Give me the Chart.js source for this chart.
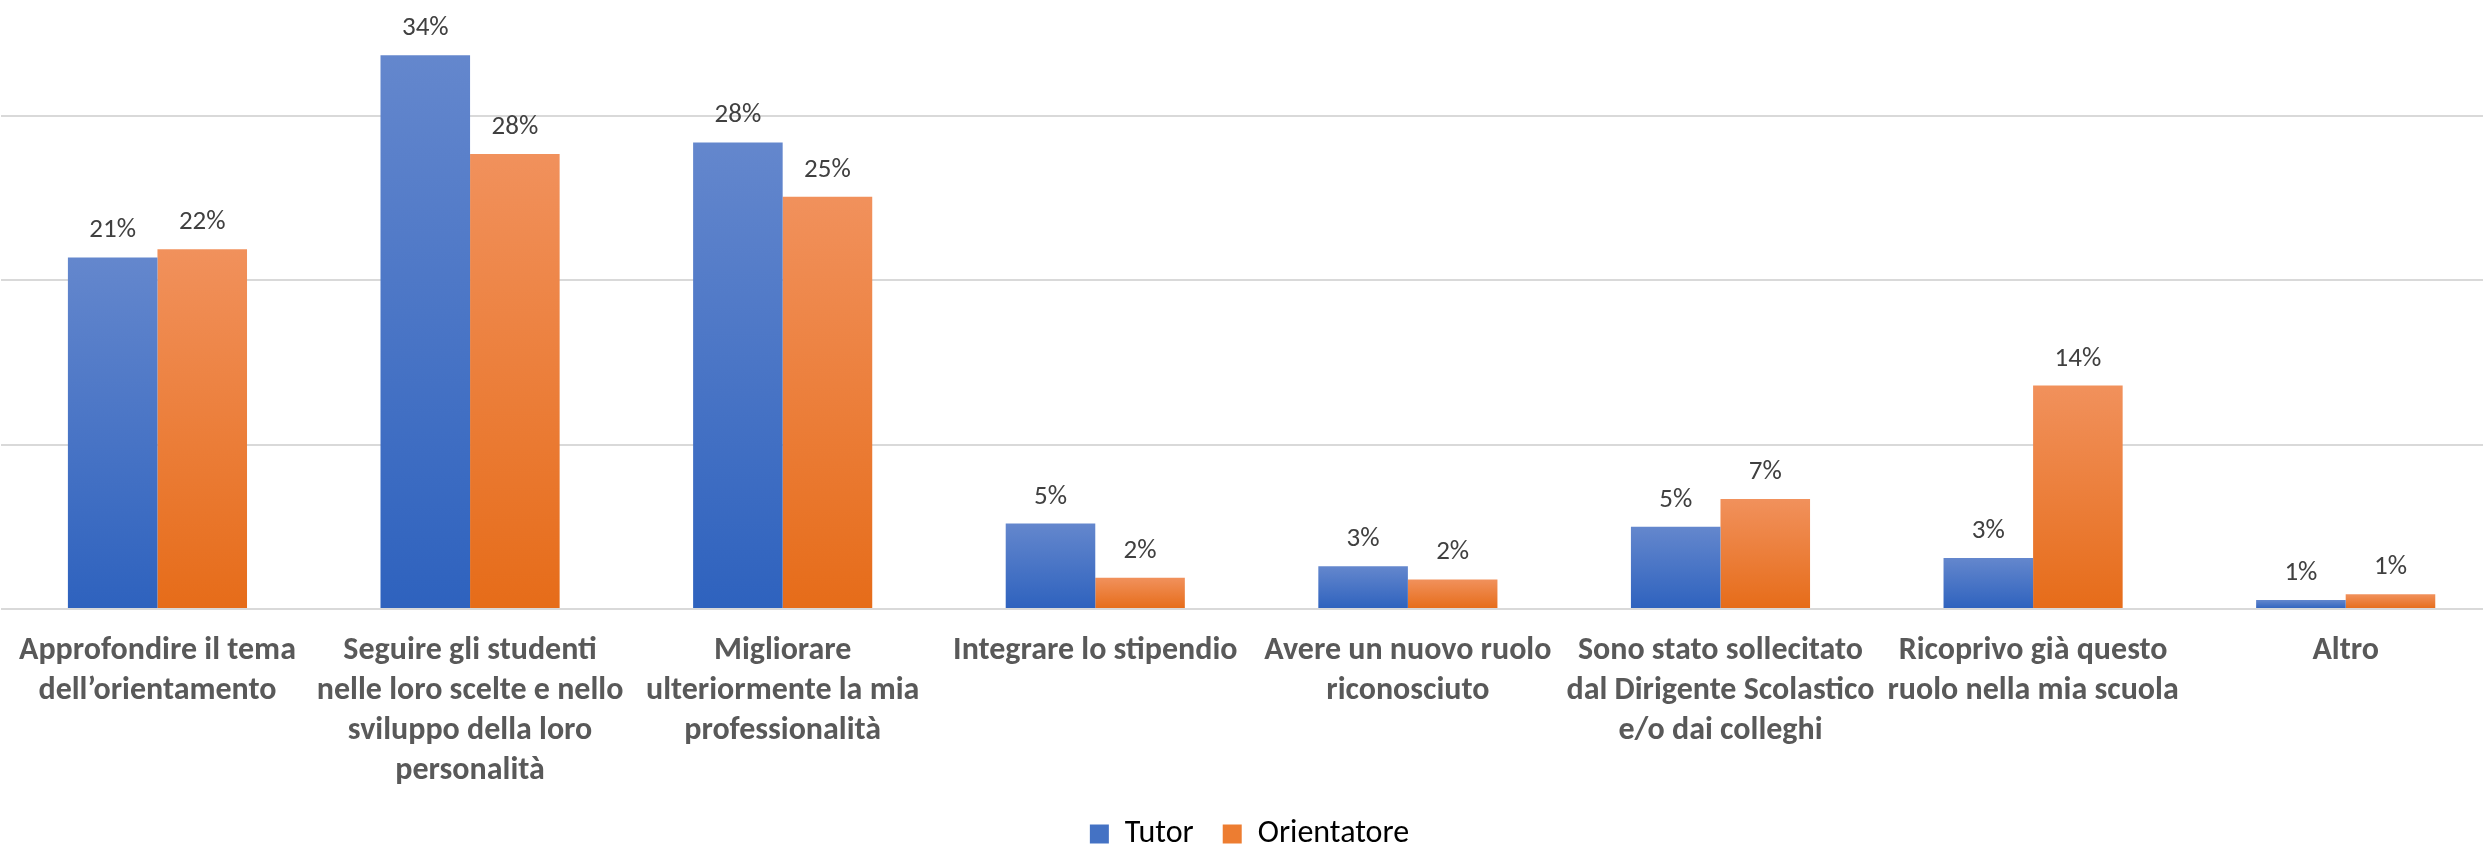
<!DOCTYPE html>
<html>
<head>
<meta charset="utf-8">
<script src="https://cdn.jsdelivr.net/npm/chart.js@4.4.0/dist/chart.umd.min.js"></script>
<style>
  html, body { margin: 0; padding: 0; background: #fff; overflow: hidden; }
  #wrap { position: relative; margin-left: -3px; width: 2505px; height: 860px; }
</style>
</head>
<body>
<div id="wrap"><canvas id="chart"></canvas></div>
<script>
const categories = [
  ['Approfondire il tema', 'dell’orientamento'],
  ['Seguire gli studenti', 'nelle loro scelte e nello', 'sviluppo della loro', 'personalità'],
  ['Migliorare', 'ulteriormente la mia', 'professionalità'],
  ['Integrare lo stipendio'],
  ['Avere un nuovo ruolo', 'riconosciuto'],
  ['Sono stato sollecitato', 'dal Dirigente Scolastico', 'e/o dai colleghi'],
  ['Ricoprivo già questo', 'ruolo nella mia scuola'],
  ['Altro']
];
const seriesNames = ['Tutor', 'Orientatore'];
const tutorValues = [0.214, 0.337, 0.284, 0.052, 0.026, 0.050, 0.031, 0.0055];
const orientatoreValues = [0.219, 0.277, 0.251, 0.019, 0.018, 0.067, 0.136, 0.009];
const gridTicks = [0, 0.1, 0.2, 0.3];

const FONT = 'Carlito, Lato, "Open Sans", sans-serif';
const AXIS_Y = 609; // pixel row of the zero line

function barGradient(top, bottom) {
  return (ctx) => {
    const chart = ctx.chart;
    if (!chart.chartArea || ctx.type !== 'data') return bottom;
    const y = chart.scales.y;
    const yTop = y.getPixelForValue(ctx.raw);
    const yBase = y.getPixelForValue(0);
    const g = chart.ctx.createLinearGradient(0, yTop, 0, yBase);
    g.addColorStop(0, top);
    g.addColorStop(1, bottom);
    return g;
  };
}

// percent labels above each bar
const valueLabels = {
  id: 'valueLabels',
  afterDatasetsDraw(chart) {
    const ctx = chart.ctx;
    ctx.save();
    ctx.font = '27px ' + FONT;
    ctx.fillStyle = '#404040';
    ctx.textAlign = 'center';
    ctx.textBaseline = 'alphabetic';
    chart.data.datasets.forEach((ds, i) => {
      chart.getDatasetMeta(i).data.forEach((bar, j) => {
        ctx.fillText(Math.round(ds.data[j] * 100) + '%', bar.x, bar.y - 20);
      });
    });
    ctx.restore();
  }
};

const legendColors = ['#4472C4', '#ED7D31'];

new Chart(document.getElementById('chart'), {
  type: 'bar',
  data: {
    labels: categories,
    datasets: [
      {
        label: seriesNames[0],
        data: tutorValues,
        backgroundColor: barGradient('#6487CD', '#2E62BE'),
        categoryPercentage: 0.573,
        barPercentage: 1
      },
      {
        label: seriesNames[1],
        data: orientatoreValues,
        backgroundColor: barGradient('#F1915C', '#E66C19'),
        categoryPercentage: 0.573,
        barPercentage: 1
      }
    ]
  },
  options: {
    responsive: true,
    maintainAspectRatio: false,
    animation: false,
    layout: { padding: 0 },
    scales: {
      x: {
        grid: { display: false, drawTicks: false },
        border: { display: false },
        afterFit: (scale) => {
          scale.height = scale.chart.height - AXIS_Y - scale.chart.legend.height;
        },
        ticks: {
          autoSkip: false,
          maxRotation: 0,
          padding: 22,
          color: '#595959',
          font: { family: FONT, size: 32, weight: 'bold', lineHeight: 1.25 }
        }
      },
      y: {
        min: 0,
        max: 0.3707,
        afterBuildTicks: (scale) => {
          scale.ticks = gridTicks.map((v) => ({ value: v }));
        },
        grid: { color: '#D9D9D9', lineWidth: 2, drawTicks: false },
        border: { display: false },
        ticks: { display: false }
      }
    },
    plugins: {
      tooltip: { enabled: false },
      legend: {
        position: 'bottom',
        labels: {
          boxWidth: 19,
          boxHeight: 19,
          padding: 29,
          color: '#595959',
          font: { family: FONT, size: 32 },
          generateLabels: (chart) => chart.data.datasets.map((ds, i) => ({
            text: ds.label,
            fillStyle: legendColors[i],
            strokeStyle: legendColors[i],
            lineWidth: 0,
            datasetIndex: i
          }))
        }
      }
    }
  },
  plugins: [valueLabels]
});
</script>
</body>
</html>
